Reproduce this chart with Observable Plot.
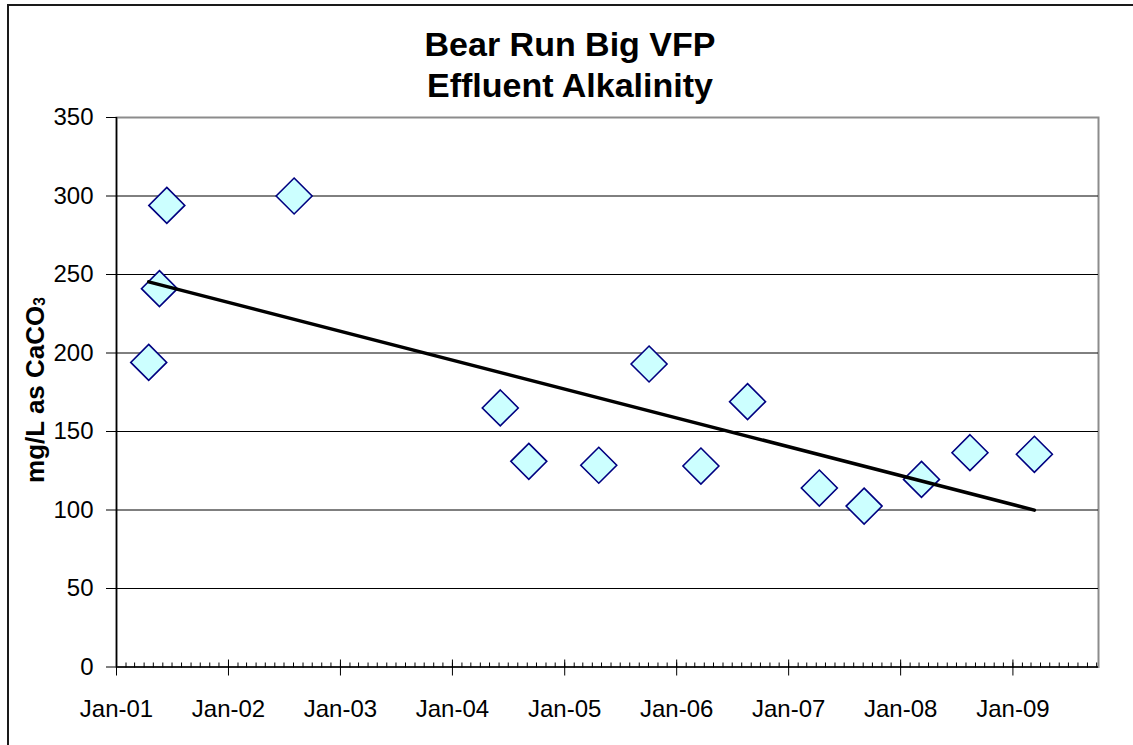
<!DOCTYPE html>
<html><head><meta charset="utf-8">
<script src="https://cdn.jsdelivr.net/npm/d3@7"></script>
<script src="https://cdn.jsdelivr.net/npm/@observablehq/plot@0.6"></script>
<style>
body{margin:0;background:#fff;}
#wrap{position:relative;width:1133px;height:745px;overflow:hidden;font-family:"Liberation Sans",Arial,sans-serif;background:#fff;}
#frame{position:absolute;left:7px;top:4px;width:1200px;height:800px;border:2px solid #1a1a1a;}
#title{position:absolute;left:8px;width:1124px;top:24px;text-align:center;font-weight:bold;font-size:34px;line-height:41px;color:#000;}
#ylab{position:absolute;left:35px;top:390px;transform:translate(-50%,-50%) rotate(-90deg);font-weight:bold;font-size:26px;white-space:nowrap;color:#000;}
#ylab sub{font-size:60%;vertical-align:-0.1em;}
#chart{position:absolute;left:0;top:100px;}
#chart svg{background:transparent !important;}
</style>
</head><body>
<div id="wrap">
  <div id="frame"></div>
  <div id="title">Bear Run Big VFP<br>Effluent Alkalinity</div>
  <div id="chart"></div>
  <div id="ylab">mg/L as CaCO<sub>3</sub></div>
</div>
<script>
const sampleDates = ["2001-04-16","2001-05-21","2001-06-14","2002-08-03","2004-06-05","2004-09-06","2005-04-22","2005-10-03","2006-03-21","2006-08-20","2007-04-11","2007-09-04","2008-03-09","2008-08-14","2009-03-12"];
const alkalinity = [194, 241, 294, 300, 165, 131, 128.5, 193, 128, 169, 114, 102.5, 119.5, 136.5, 135.5];
const yTicks = [0, 50, 100, 150, 200, 250, 300, 350];
const xDomain = ["2001-01-01", "2009-10-07"];
const yearTickDates = ["2001-01-01","2002-01-01","2003-01-01","2004-01-01","2005-01-01","2006-01-01","2007-01-01","2008-01-01","2009-01-01"];

const data = sampleDates.map((d, i) => ({date: new Date(d), value: alkalinity[i]}));
const xd = xDomain.map(d => new Date(d));
const yearTicks = yearTickDates.map(d => new Date(d));
const monthTicks = d3.utcMonth.range(xd[0], xd[1]);

const W = 1133, H = 645, mt = 17, mb = 78.5, ml = 116, mr = 35;
const innerH = H - mt - mb;
const fmt = d3.utcFormat("%b-%y");

const chart = Plot.plot({
  width: W, height: H,
  marginTop: mt, marginBottom: mb, marginLeft: ml, marginRight: mr,
  style: {fontFamily: "Liberation Sans, Arial, sans-serif", background: "transparent", overflow: "visible", color: "black"},
  x: {type: "utc", domain: xd},
  y: {domain: [0, 350]},
  marks: [
    Plot.frame({stroke: "#8c8c8c", strokeWidth: 2}),
    Plot.ruleY(yTicks.filter(v => v > 0 && v < 350), {stroke: "black", strokeWidth: 1}),
    Plot.ruleX([xd[0]], {stroke: "black", strokeWidth: 1.5}),
    Plot.ruleY([0], {stroke: "black", strokeWidth: 1.5}),
    Plot.axisY(yTicks, {tickSize: 10, tickPadding: 13, fontSize: 24, label: null, stroke: "black", fill: "black"}),
    Plot.axisX(yearTicks, {anchor: "bottom", tickSize: 9, tickPadding: 24, fontSize: 24, tickFormat: fmt, label: null, stroke: "black", fill: "black"}),
    Plot.axisX(yearTicks, {anchor: "top", dy: innerH, tickSize: 8, tickFormat: () => "", label: null, stroke: "black"}),
    Plot.axisX(monthTicks, {anchor: "top", dy: innerH, tickSize: 5, tickFormat: () => "", label: null, stroke: "black"}),
    Plot.dot(data, {x: "date", y: "value", symbol: "diamond2", r: 16.2, fill: "#CCFFFF", stroke: "#000080", strokeWidth: 1.6}),
    Plot.linearRegressionY(data, {x: "date", y: "value", ci: 0, stroke: "black", strokeWidth: 3.5})
  ]
});
document.getElementById("chart").appendChild(chart);
</script>
</body></html>
